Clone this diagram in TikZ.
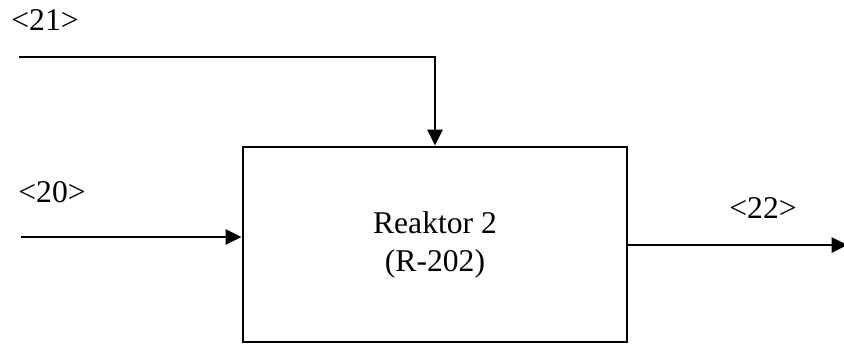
\documentclass[tikz,border=0pt]{standalone}
\usepackage{fontspec}
\setmainfont{Liberation Serif}
\usetikzlibrary{positioning, arrows.meta}

\tikzset{
    flow/.style={line width=1.6pt, -{Triangle[length=0.32cm, width=0.3cm]}},
    streamlabel/.style={font=\fontsize{18}{21.6}\selectfont}
}

\begin{document}
\begin{tikzpicture}
    \useasboundingbox (0,0) rectangle (16.88,-6.9);

    % Reaktor
    \node[draw, line width=1.6pt, minimum width=7.68cm, minimum height=3.9cm,
          align=center, font=\fontsize{18}{21.6}\selectfont] (R202) at (8.70,-4.89) {Reaktor 2\\(R-202)};

    % Stream 21
    \node[streamlabel] (L21) at (0.90,-0.40) {<21>};
    \coordinate (S21) at (0.38,-1.14);
    \draw[flow] (S21) -| (R202.north);

    % Stream 20
    \node[streamlabel] (L20) at (1.04,-3.84) {<20>};
    \coordinate (S20) at (0.42,-4.74);
    \draw[flow] (S20) -- (S20 -| R202.west);

    % Stream 22
    \node[streamlabel] (L22) at (15.26,-4.16) {<22>};
    \coordinate (E22) at (16.95,-4.90);
    \draw[flow] (R202.east |- E22) -- (E22);
\end{tikzpicture}
\end{document}
